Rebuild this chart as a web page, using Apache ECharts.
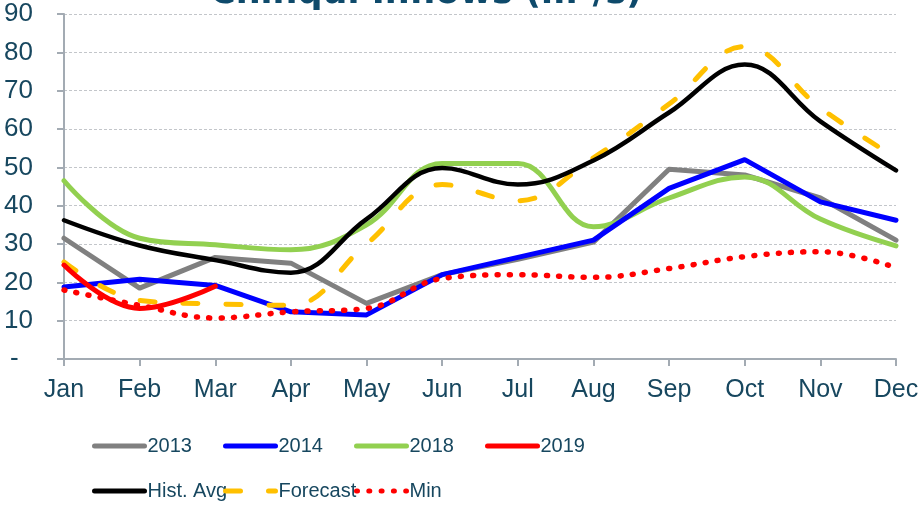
<!DOCTYPE html>
<html>
<head>
<meta charset="utf-8">
<script src="https://cdn.jsdelivr.net/npm/echarts@6/dist/echarts.min.js"></script>
<style>
  html, body { margin: 0; padding: 0; background: #fff; }
  #echarts { width: 922px; height: 505px; }
</style>
</head>
<body>
<div id="echarts"></div>
<script>
// Meses e séries
var months = ['Jan', 'Feb', 'Mar', 'Apr', 'May', 'Jun', 'Jul', 'Aug', 'Sep', 'Oct', 'Nov', 'Dec'];
var y2013 = [31.5, 18.5, 26.5, 25, 14.5, 22, 26, 30.5, 49.5, 48, 42, 31];
var y2014 = [18.8, 20.8, 19.2, 12.3, 11.5, 22, 26.5, 31, 44.5, 52, 41, 36.2];
var y2018 = [46.5, 31.5, 29.8, 28.5, 35, 51, 51, 34.5, 42, 47.5, 36.5, 29.5];
var y2019 = [24.5, 13.2, 19];
var histAvg = [36.2, 29.6, 25.8, 22.5, 36.5, 49.8, 45.5, 51.8, 64.3, 76.8, 62, 49.2];
var forecast = [25.3, 15.3, 14.4, 14, 30, 45.5, 41.3, 52.5, 66.5, 81.5, 65.5, 52.5];
var minVals = [18, 14, 10.7, 12.3, 13.2, 21, 22, 21.3, 23.6, 26.7, 28, 23.8];
var yTicks = [0, 10, 20, 30, 40, 50, 60, 70, 80, 90];

var textColor = '#17475f';
var axisColor = '#a3abb3';

var chart = echarts.init(document.getElementById('echarts'));

// Cada item da legenda fica numa posição fixa (grade de 2 linhas)
var legendPos = [
    ['2013', 92, 436], ['2014', 223, 436], ['2018', 354, 436], ['2019', 485, 436],
    ['Hist. Avg', 92, 481], ['Forecast', 223, 481], ['Min', 354, 481]
];
var legends = legendPos.map(function (p) {
    return {
        data: [p[0]],
        left: p[1],
        top: p[2],
        itemWidth: 50,
        itemHeight: 12,
        itemGap: 0,
        padding: 0,
        itemStyle: { opacity: 0 },
        lineStyle: { width: 5, cap: 'round' },
        textStyle: {
            color: textColor,
            fontSize: 20,
            fontFamily: 'Liberation Sans, Arial',
            padding: [0, 0, 0, -2]
        }
    };
});

function lineSeries(name, data, color, opts) {
    opts = opts || {};
    return {
        name: name,
        type: 'line',
        data: data,
        symbol: 'none',
        smooth: opts.smooth || false,
        z: opts.z || 2,
        lineStyle: {
            color: color,
            width: opts.width || 5,
            type: opts.type || 'solid',
            cap: 'round',
            join: 'round'
        },
        itemStyle: { color: color }
    };
}

var options = {
    backgroundColor: '#ffffff',
    animation: false,
    title: {
        text: 'Chinqui Inflows (m³/s)',
        left: 205,
        top: -29,
        textStyle: {
            color: '#0e4a6b',
            fontSize: 35,
            fontWeight: 'bold',
            fontFamily: 'DejaVu Sans'
        }
    },
    legend: legends,
    grid: {
        left: 64,
        right: 26,
        top: 14,
        bottom: 146
    },
    xAxis: {
        type: 'category',
        data: months,
        boundaryGap: false,
        axisLine: { lineStyle: { color: axisColor, width: 2 } },
        axisTick: { show: true, length: 7, lineStyle: { color: axisColor, width: 2 } },
        axisLabel: {
            color: textColor,
            fontSize: 25,
            fontFamily: 'Liberation Sans, Arial',
            margin: 19
        },
        splitLine: { show: false }
    },
    yAxis: {
        type: 'value',
        min: yTicks[0],
        max: yTicks[yTicks.length - 1],
        interval: 10,
        axisLine: { show: true, lineStyle: { color: axisColor, width: 2 } },
        axisTick: { show: true, length: 7, lineStyle: { color: axisColor, width: 2 } },
        axisLabel: {
            color: textColor,
            fontSize: 26,
            fontFamily: 'Liberation Sans, Arial',
            margin: 31,
            formatter: function (v) {
                return v === 0 ? '-  ' : String(v);
            }
        },
        splitLine: {
            show: true,
            lineStyle: { color: '#c3c6ca', type: [3, 2], width: 1 }
        }
    },
    series: [
        lineSeries('2013', y2013, '#808080'),
        lineSeries('2014', y2014, '#0000ff', { z: 3 }),
        lineSeries('2018', y2018, '#92d050', { smooth: 0.4 }),
        lineSeries('2019', y2019, '#ff0000', { smooth: 0.4, z: 4 }),
        lineSeries('Hist. Avg', histAvg, '#000000', { smooth: 0.4, width: 4.5, z: 4 }),
        lineSeries('Forecast', forecast, '#ffc000', { smooth: 0.4, type: [15, 28], z: 3 }),
        lineSeries('Min', minVals, '#ff0000', { smooth: 0.4, width: 5.5, type: [1, 11.3], z: 5 })
    ]
};

chart.setOption(options);
</script>
</body>
</html>
